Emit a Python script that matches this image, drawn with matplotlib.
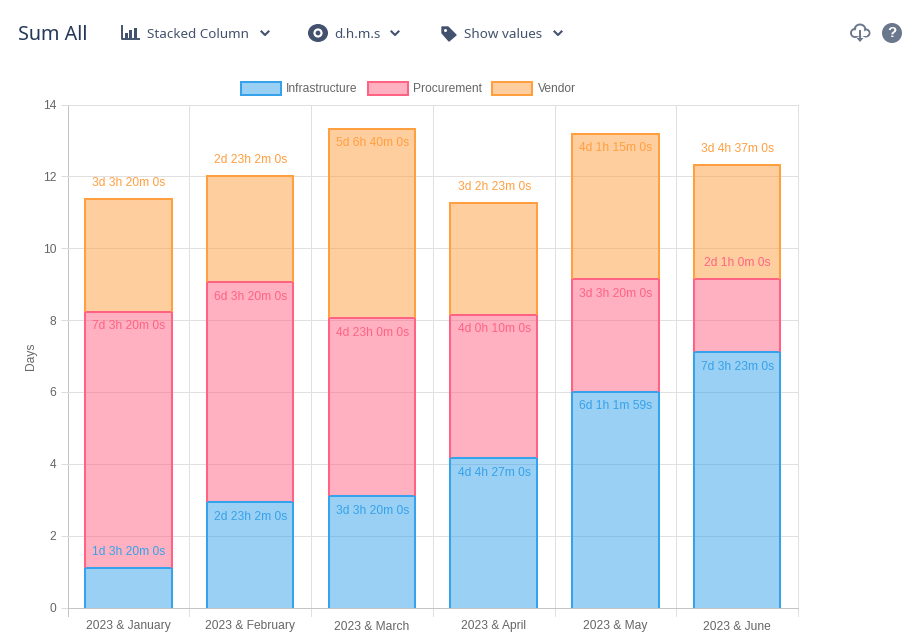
import matplotlib
matplotlib.use("Agg")
import matplotlib.pyplot as plt
from matplotlib.patches import Rectangle, Circle, Polygon, Ellipse

W, H = 922, 632
categories = ["2023 & January", "2023 & February", "2023 & March", "2023 & April", "2023 & May", "2023 & June"]
series_names = ["Infrastructure", "Procurement", "Vendor"]
infrastructure = [1.1, 2.93, 3.1, 4.15, 6.0, 7.1]
procurement = [7.13, 6.12, 4.95, 4.0, 3.14, 2.05]
vendor = [3.14, 2.97, 5.28, 3.1, 4.05, 3.18]
infrastructure_labels = ["1d 3h 20m 0s", "2d 23h 2m 0s", "3d 3h 20m 0s", "4d 4h 27m 0s", "6d 1h 1m 59s", "7d 3h 23m 0s"]
procurement_labels = ["7d 3h 20m 0s", "6d 3h 20m 0s", "4d 23h 0m 0s", "4d 0h 10m 0s", "3d 3h 20m 0s", "2d 1h 0m 0s"]
vendor_labels = ["3d 3h 20m 0s", "2d 23h 2m 0s", "5d 6h 40m 0s", "3d 2h 23m 0s", "4d 1h 15m 0s", "3d 4h 37m 0s"]
yticks = [0, 2, 4, 6, 8, 10, 12, 14]

colors = ["#36a2eb", "#ff6384", "#ff9f40"]
values = [infrastructure, procurement, vendor]
labels = [infrastructure_labels, procurement_labels, vendor_labels]
above_below = [2, 3, 4]  # segments shorter than this carry their label above the top

plt.rcParams["font.family"] = ["Liberation Sans", "DejaVu Sans"]
fs = 8.64
fig = plt.figure(figsize=(W / 100, H / 100), dpi=100, facecolor="white")

L, R, T, B = 67.5, 798, 104.5, 607.5
ax = fig.add_axes([L / W, 1 - B / H, (R - L) / W, (B - T) / H])
ax.set_xlim(-0.5, 5.5)
ax.set_ylim(0, 14)
ax.set_facecolor("white")
for s in ax.spines.values():
    s.set_visible(False)
ax.set_yticks(yticks)
ax.set_xticks([])
ax.tick_params(axis="y", length=5, width=0.72, color="#dcdcdc", labelsize=fs, labelcolor="#666666", pad=3)
ax.yaxis.grid(True, color="#e0e0e0", lw=0.72)
ax.set_axisbelow(True)
for i in range(0, 7):
    c = "#c4c4c4" if i == 0 else "#e0e0e0"
    ax.plot([i - 0.5, i - 0.5], [-8 / 503 * 14, 14], color=c, lw=0.72, clip_on=False, zorder=0.5)
ax.plot([-0.5, 5.5], [0, 0], color="#c4c4c4", lw=0.72, zorder=0.6, clip_on=False)
for i, c in enumerate(categories):
    ax.annotate(c, (i, 0), xytext=(0, -22), textcoords="offset pixels", ha="center", va="baseline",
                fontsize=fs, color="#666666", annotation_clip=False)
ax.set_ylabel("Days", fontsize=fs, color="#666666", labelpad=4)

width = 0.71
half = width / 2
bottom = [0.0] * 6
for vals, txt, col, limit in zip(values, labels, colors, above_below):
    ax.bar(range(6), vals, width, bottom=bottom, color=col, alpha=0.5, lw=0, zorder=2)
    for i, v in enumerate(vals):
        top = bottom[i] + v
        ax.plot([i - half, i - half, i + half, i + half], [bottom[i], top, top, bottom[i]],
                color=col, lw=1.45, zorder=3, solid_joinstyle="miter", solid_capstyle="butt")
        off = 16 if v < limit else -14.5
        ax.annotate(txt[i], (i, top), xytext=(0.5, off), textcoords="offset pixels", ha="center", va="center",
                    fontsize=fs, color=col, zorder=4)
        bottom[i] = top

# Toolbar and legend, in pixel coordinates
ov = fig.add_axes([0, 0, 1, 1], facecolor="none")
ov.set_xlim(0, W)
ov.set_ylim(H, 0)
ov.axis("off")
for x, y, w, col, name, tx in [(240.5, 82, 40, colors[0], series_names[0], 286),
                               (367.5, 82, 40, colors[1], series_names[1], 413),
                               (492, 82, 40, colors[2], series_names[2], 538)]:
    ov.add_patch(Rectangle((x, y), w, 13, fc=col + "80", ec=col, lw=1.45))
    ov.text(tx, 88.5, name, fontsize=fs, color="#666666", va="center", ha="left")

dark = "#42526e"
ov.text(18, 35, "Sum All", fontsize=14.2, color="#253858", va="center", family=["Noto Sans", "DejaVu Sans"])
for x, t in [(147, "Stacked Column"), (334, "d.h.m.s"), (464, "Show values")]:
    ov.text(x, 34, t, fontsize=9.7, color=dark, va="center", family=["Noto Sans", "DejaVu Sans"])


def chevron(x, y):
    ov.plot([x - 3.5, x, x + 3.5], [y - 2, y + 1.5, y - 2], color=dark, lw=1.5)


for x in (265, 395, 558):
    chevron(x, 33.5)
# bar-chart icon
ov.plot([122, 122, 139], [26, 39, 39], color=dark, lw=1.4)
for x, y0 in [(124.5, 33), (129, 30), (133.5, 27.5)]:
    ov.add_patch(Rectangle((x, y0), 3, 37.5 - y0, fc=dark, ec="none"))
# eye icon
ov.add_patch(Ellipse((318, 33), 20, 18, fc=dark, ec="none"))
ov.add_patch(Circle((318, 33), 4.6, fc="white", ec="none"))
ov.add_patch(Circle((318, 33), 2.4, fc=dark, ec="none"))
# tag icon
ov.add_patch(Polygon([(442, 27), (448, 27), (456, 35), (449, 41), (442, 33)], closed=True, fc=dark, ec=dark, lw=1, joinstyle="round"))
ov.add_patch(Circle((445.5, 30.5), 1.5, fc="white", ec="none"))
# cloud-download icon
cloud = "#6b778c"
for cx, cy, r in [(855, 33, 4), (860, 30, 5.5), (866, 33, 3.5)]:
    ov.add_patch(Circle((cx, cy), r, fc="none", ec=cloud, lw=1.4))
for cx, cy, r in [(855, 33, 2.8), (860, 30.5, 4.2), (866, 33, 2.4)]:
    ov.add_patch(Circle((cx, cy), r, fc="white", ec="none", zorder=3))
ov.add_patch(Rectangle((854, 32), 13, 4, fc="white", ec="none", zorder=3))
ov.plot([860, 860], [31, 40], color=cloud, lw=1.4, zorder=4)
ov.add_patch(Polygon([(856.5, 38), (863.5, 38), (860, 42)], closed=True, fc=cloud, ec="none", zorder=4))
# help icon
ov.add_patch(Circle((892, 33), 10, fc=cloud, ec="none"))
ov.text(892, 33, "?", fontsize=11, fontweight="bold", color="white", ha="center", va="center")

fig.savefig("out.png", dpi=100, facecolor="white")
